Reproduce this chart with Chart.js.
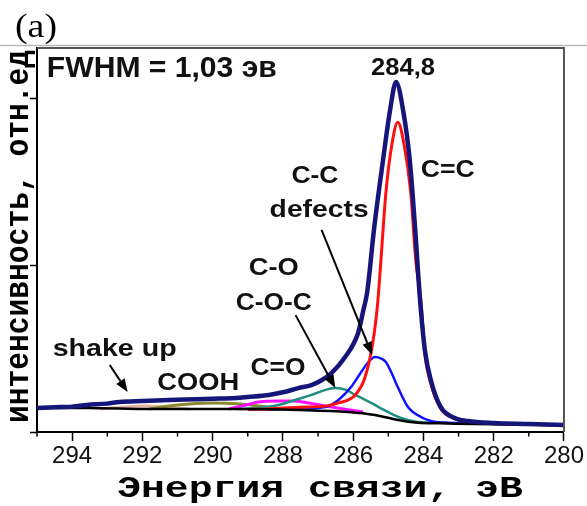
<!DOCTYPE html>
<html><head><meta charset="utf-8">
<script src="https://cdn.jsdelivr.net/npm/chart.js@4.4.1/dist/chart.umd.min.js"></script>
<style>html,body{margin:0;padding:0;background:#fff;}#wrap{width:587px;height:506px;position:relative;}</style>
</head><body><div id="wrap"><canvas id="c"></canvas></div>
<script>
// ---- data (binding energy, eV -> intensity, arb. units) ----
const envE = [295, 294.5, 294, 293.58, 293, 292.65, 292, 291.24, 290.5, 290, 289.34, 289, 288.4, 288, 287.56, 287.19, 286.9, 286.62, 286.23, 285.86, 285.72, 285.6, 285.4, 285.15, 284.95, 284.78, 284.58, 284.39, 284.24, 284.1, 283.96, 283.79, 283.51, 283.11, 282.74, 282, 281, 280];
const envV = [0.144, 0.148, 0.152, 0.162, 0.170, 0.180, 0.186, 0.192, 0.196, 0.199, 0.204, 0.210, 0.222, 0.238, 0.263, 0.281, 0.310, 0.353, 0.449, 0.593, 0.720, 0.840, 1.228, 1.629, 1.928, 2.096, 1.928, 1.629, 1.228, 0.800, 0.491, 0.311, 0.150, 0.084, 0.066, 0.054, 0.048, 0.042];

const redE = [289, 288.4, 287.56, 286.79, 286.42, 285.94, 285.66, 285.43, 285.3, 285.21, 285.07, 284.9, 284.73, 284.55, 284.36, 284.22, 284.07, 283.96, 283.79, 283.51, 283.11, 282.74, 282, 281, 280];
const redV = [0.135, 0.138, 0.148, 0.155, 0.174, 0.222, 0.329, 0.551, 0.780, 1.030, 1.431, 1.720, 1.856, 1.720, 1.431, 1.030, 0.780, 0.470, 0.290, 0.140, 0.080, 0.062, 0.050, 0.045, 0.040];

const blueE = [288.4, 287.5, 286.79, 286.42, 286.06, 285.8, 285.6, 285.38, 285.2, 285.07, 284.9, 284.73, 284.44, 284.07, 283.79, 283.11, 282.5];
const blueV = [0.135, 0.140, 0.150, 0.192, 0.269, 0.350, 0.410, 0.449, 0.440, 0.419, 0.350, 0.269, 0.150, 0.090, 0.066, 0.054, 0.050];

const tealE = [289.3, 288.7, 288.12, 287.56, 287.19, 286.85, 286.51, 286.2, 285.94, 285.49, 285.01, 284.64, 284.16, 283.31];
const tealV = [0.138, 0.145, 0.162, 0.198, 0.222, 0.248, 0.263, 0.252, 0.222, 0.174, 0.120, 0.084, 0.060, 0.054];

const magE = [289.54, 289.17, 288.69, 288.12, 287.7, 287.27, 286.79, 286.28, 285.72];
const magV = [0.138, 0.156, 0.180, 0.186, 0.186, 0.174, 0.156, 0.138, 0.120];

const oliveE = [291.8, 291.24, 290.67, 289.96, 289.25, 288.69, 288.12];
const oliveV = [0.138, 0.156, 0.168, 0.174, 0.168, 0.156, 0.138];

const shakeE = [293.22, 292.51, 291.94, 291.38, 290.67];
const shakeV = [0.138, 0.150, 0.156, 0.150, 0.138];

const bgE = [295, 293.58, 291.8, 289.34, 287.56, 286.14, 285.38, 284.73, 284.16, 283.5, 283.11, 282, 280];
const bgV = [0.144, 0.144, 0.138, 0.138, 0.132, 0.120, 0.102, 0.072, 0.056, 0.052, 0.050, 0.046, 0.042];

const xTicks = [294, 292, 290, 288, 286, 284, 282, 280];
const xMinor = [295, 293, 291, 289, 287, 285, 283, 281];
const yTicks = [0, 1, 2];

const xTitle = 'Энергия связи, эВ';
const yTitle = 'интенсивность, отн.ед';
const panelLabel = '(a)';

// annotations (anchors in data units)
const notes = [
  {t: 'FWHM = 1,03 эв', x: 294.72, y: 2.126, align: 'left', size: 29, w: 230},
  {t: '284,8', x: 284.58, y: 2.138, align: 'center', size: 24, w: 64},
  {t: 'C=C', x: 283.31, y: 1.527, align: 'center', size: 24, w: 54},
  {t: 'C-C', x: 287.09, y: 1.491, align: 'center', size: 24, w: 47},
  {t: 'defects', x: 286.97, y: 1.287, align: 'center', size: 24, w: 99},
  {t: 'C-O', x: 288.26, y: 0.94, align: 'center', size: 24, w: 50},
  {t: 'C-O-C', x: 288.26, y: 0.731, align: 'center', size: 24, w: 76},
  {t: 'C=O', x: 288.14, y: 0.341, align: 'center', size: 24, w: 55},
  {t: 'COOH', x: 290.41, y: 0.251, align: 'center', size: 24, w: 82},
  {t: 'shake up', x: 292.79, y: 0.455, align: 'center', size: 24, w: 124}
];
const arrows = [
  {x0: 292.93, y0: 0.401, x1: 292.42, y1: 0.240},
  {x0: 287.64, y0: 0.700, x1: 286.51, y1: 0.263},
  {x0: 286.90, y0: 1.210, x1: 285.46, y1: 0.461}
];

const pts = (E, V) => E.map((e, i) => ({x: e, y: V[i]}));
const ds = (E, V, color, w) => ({data: pts(E, V), borderColor: color, borderWidth: w, pointRadius: 0, fill: false, cubicInterpolationMode: 'monotone'});

function sText(ctx, t, px, py, font, align, targetW) {
  ctx.save();
  ctx.font = font;
  ctx.textAlign = 'left';
  ctx.textBaseline = 'alphabetic';
  const m = ctx.measureText(t);
  const s = targetW / m.width;
  const sx = align === 'center' ? px - targetW / 2 : px;
  ctx.translate(sx, py);
  ctx.scale(s, 1);
  ctx.fillText(t, 0, 0);
  ctx.restore();
}

const deco = {
  id: 'deco',
  afterDraw(chart) {
    const {ctx, chartArea: a, scales: {x, y}} = chart;
    ctx.save();
    ctx.strokeStyle = '#b8b8b8'; ctx.lineWidth = 1.5;
    ctx.beginPath(); ctx.moveTo(0, 45.5); ctx.lineTo(587, 45.5); ctx.stroke();
    ctx.strokeStyle = '#555'; ctx.lineWidth = 2;
    ctx.beginPath(); ctx.moveTo(a.left, a.top); ctx.lineTo(a.right, a.top); ctx.lineTo(a.right, a.bottom); ctx.stroke();
    ctx.strokeStyle = '#000'; ctx.lineWidth = 1.5;
    xMinor.forEach(v => {
      const p = x.getPixelForValue(v);
      ctx.beginPath(); ctx.moveTo(p, a.bottom); ctx.lineTo(p, a.bottom + 4.5); ctx.stroke();
    });
    // arrows
    ctx.strokeStyle = '#000'; ctx.fillStyle = '#000'; ctx.lineWidth = 2;
    arrows.forEach(r => {
      const X0 = x.getPixelForValue(r.x0), Y0 = y.getPixelForValue(r.y0);
      const X1 = x.getPixelForValue(r.x1), Y1 = y.getPixelForValue(r.y1);
      const ang = Math.atan2(Y1 - Y0, X1 - X0);
      const L = 13, W = 5;
      const bx = X1 - L * Math.cos(ang), by = Y1 - L * Math.sin(ang);
      ctx.beginPath(); ctx.moveTo(X0, Y0); ctx.lineTo(bx, by); ctx.stroke();
      ctx.beginPath();
      ctx.moveTo(X1, Y1);
      ctx.lineTo(bx + W * Math.sin(ang), by - W * Math.cos(ang));
      ctx.lineTo(bx - W * Math.sin(ang), by + W * Math.cos(ang));
      ctx.closePath(); ctx.fill();
    });
    // notes
    ctx.fillStyle = '#111';
    notes.forEach(n => {
      sText(ctx, n.t, x.getPixelForValue(n.x), y.getPixelForValue(n.y), 'bold ' + n.size + 'px "Liberation Sans", Arial, sans-serif', n.align, n.w);
    });
    // axis titles
    ctx.fillStyle = '#000';
    sText(ctx, xTitle, 320, 497, 'bold 30px "Liberation Mono", "Courier New", monospace', 'center', 406);
    ctx.save();
    ctx.translate(28, 236.5);
    ctx.rotate(-Math.PI / 2);
    sText(ctx, yTitle, 0, 0, 'bold 34px "Liberation Mono", "Courier New", monospace', 'center', 373);
    ctx.restore();
    // panel label
    sText(ctx, panelLabel, 15, 37, '34px "Liberation Serif", "Times New Roman", serif', 'left', 42);
    ctx.restore();
  }
};

new Chart(document.getElementById('c'), {
  type: 'line',
  data: {
    datasets: [
      ds(envE, envV, '#15157a', 4.5),
      ds(bgE, bgV, '#000000', 2.5),
      ds(redE, redV, '#ff1010', 3),
      ds(blueE, blueV, '#1010ff', 2.5),
      ds(tealE, tealV, '#1f8f80', 2.5),
      ds(magE, magV, '#ff10ff', 3),
      ds(oliveE, oliveV, '#8a8a30', 3),
      ds(shakeE, shakeV, '#e2b4a4', 3)
    ]
  },
  options: {
    responsive: true,
    maintainAspectRatio: false,
    animation: false,
    devicePixelRatio: 1,
    layout: {padding: {top: 48, right: 20, left: 0, bottom: 0}},
    plugins: {legend: {display: false}, tooltip: {enabled: false}},
    scales: {
      x: {
        type: 'linear', reverse: true, min: 280, max: 295,
        afterBuildTicks: s => { s.ticks = xTicks.map(v => ({value: v})); },
        afterFit: s => { s.height = 74; },
        grid: {drawOnChartArea: false, drawTicks: true, tickLength: 9, tickColor: '#000', tickWidth: 1.5},
        border: {display: true, color: '#000', width: 2},
        ticks: {color: '#111', padding: 3, maxRotation: 0, autoSkip: false, font: {family: '"Liberation Sans", Arial, sans-serif', size: 24, lineHeight: 1}}
      },
      y: {
        type: 'linear', min: 0, max: 2.3,
        afterBuildTicks: s => { s.ticks = yTicks.map(v => ({value: v})); },
        afterFit: s => { s.width = 37; },
        grid: {drawOnChartArea: false, drawTicks: true, tickLength: 7, tickColor: '#000', tickWidth: 1.5},
        border: {display: true, color: '#000', width: 2},
        ticks: {display: false}
      }
    }
  },
  plugins: [deco]
});
</script>
</body></html>
